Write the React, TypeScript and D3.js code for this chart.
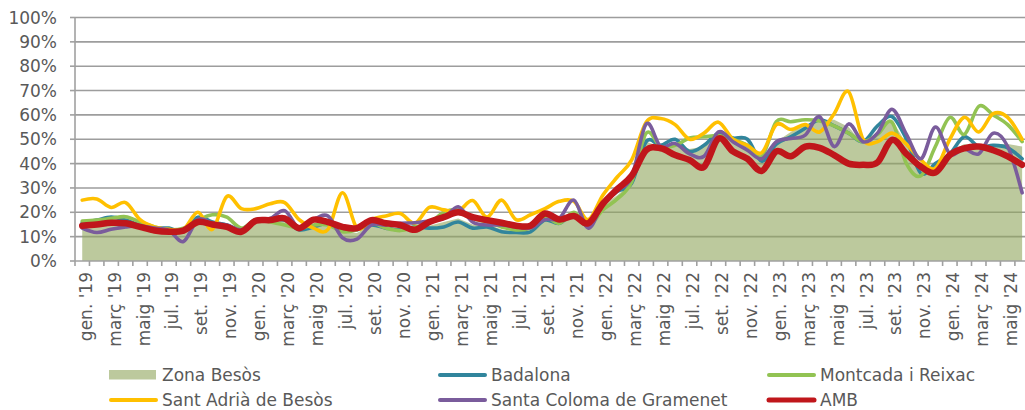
import React from "react";
import * as d3 from "d3";

const MONTH_NAMES = ["gen.", "febr.", "març", "abr.", "maig", "juny", "jul.", "ag.", "set.", "oct.", "nov.", "des."];
const YEARS = ["19", "20", "21", "22", "23", "24"];
const N_MONTHS = 66;
const categories: string[] = [];
for (const y of YEARS) for (const m of MONTH_NAMES) if (categories.length < N_MONTHS) categories.push(`${m} '${y}`);

const yTicks = [0, 0.1, 0.2, 0.3, 0.4, 0.5, 0.6, 0.7, 0.8, 0.9, 1.0];

const zonaBesos = [
  0.16, 0.165, 0.17, 0.165, 0.15, 0.135, 0.13, 0.12, 0.17, 0.165, 0.155, 0.13, 0.165, 0.17, 0.165, 0.13, 0.145,
  0.16, 0.12, 0.115, 0.15, 0.14, 0.13, 0.145, 0.145, 0.16, 0.175, 0.15, 0.15, 0.13, 0.12, 0.125, 0.17, 0.16,
  0.2, 0.14, 0.23, 0.27, 0.32, 0.49, 0.47, 0.48, 0.46, 0.47, 0.51, 0.5, 0.48, 0.41, 0.49, 0.53,
  0.56, 0.58, 0.58, 0.55, 0.48, 0.53, 0.58, 0.48, 0.36, 0.4, 0.45, 0.48, 0.47, 0.48, 0.48, 0.47,
];
const badalona = [
  0.157, 0.168, 0.18, 0.168, 0.148, 0.135, 0.135, 0.12, 0.18, 0.16, 0.148, 0.13, 0.168, 0.168, 0.168, 0.128, 0.14,
  0.155, 0.128, 0.128, 0.148, 0.135, 0.128, 0.14, 0.135, 0.14, 0.16, 0.135, 0.14, 0.12, 0.117, 0.12, 0.168, 0.155,
  0.195, 0.145, 0.235, 0.285, 0.32, 0.49, 0.475, 0.5, 0.45, 0.475, 0.525, 0.505, 0.5, 0.41, 0.48, 0.51,
  0.545, 0.58, 0.555, 0.525, 0.49, 0.555, 0.593, 0.5, 0.36, 0.4, 0.44, 0.51, 0.47, 0.475, 0.465, 0.42,
];
const montcada = [
  0.164, 0.168, 0.175, 0.182, 0.16, 0.14, 0.128, 0.135, 0.168, 0.19, 0.18, 0.135, 0.17, 0.16, 0.148, 0.135, 0.148,
  0.148, 0.12, 0.128, 0.155, 0.135, 0.125, 0.14, 0.155, 0.2, 0.21, 0.175, 0.16, 0.14, 0.128, 0.135, 0.18, 0.155,
  0.2, 0.145, 0.21, 0.255, 0.325, 0.525, 0.47, 0.475, 0.505, 0.51, 0.515, 0.5, 0.475, 0.43, 0.572, 0.572,
  0.58, 0.575, 0.555, 0.525, 0.49, 0.52, 0.57, 0.4, 0.35, 0.47, 0.59, 0.52, 0.635, 0.6, 0.56, 0.49,
];
const santAdria = [
  0.25, 0.255, 0.22, 0.24, 0.17, 0.14, 0.13, 0.13, 0.2, 0.13, 0.265, 0.215, 0.215, 0.235, 0.24, 0.17, 0.135,
  0.13, 0.28, 0.135, 0.17, 0.185, 0.195, 0.155, 0.22, 0.21, 0.205, 0.248, 0.18, 0.25, 0.17, 0.19, 0.215, 0.245,
  0.245, 0.17, 0.27, 0.345, 0.415, 0.57, 0.585, 0.56, 0.5, 0.525, 0.57, 0.5, 0.475, 0.445, 0.56, 0.54,
  0.56, 0.53, 0.605, 0.695, 0.5, 0.49, 0.525, 0.48, 0.415, 0.38, 0.5, 0.59, 0.53, 0.605, 0.59, 0.5,
];
const santaColoma = [
  0.135, 0.117, 0.13, 0.14, 0.145, 0.135, 0.125, 0.08, 0.17, 0.155, 0.148, 0.128, 0.17, 0.175, 0.207, 0.135, 0.17,
  0.185, 0.095, 0.09, 0.148, 0.148, 0.155, 0.157, 0.165, 0.175, 0.223, 0.16, 0.148, 0.148, 0.14, 0.135, 0.17, 0.175,
  0.25, 0.135, 0.235, 0.29, 0.345, 0.563, 0.47, 0.483, 0.44, 0.43, 0.53, 0.49, 0.455, 0.42, 0.49, 0.503,
  0.517, 0.593, 0.47, 0.563, 0.49, 0.525, 0.623, 0.52, 0.42, 0.55, 0.44, 0.46, 0.44, 0.525, 0.47, 0.28,
];
const amb = [
  0.145, 0.15, 0.157, 0.155, 0.14, 0.125, 0.12, 0.125, 0.16, 0.15, 0.14, 0.12, 0.165, 0.168, 0.175, 0.135, 0.17,
  0.16, 0.14, 0.135, 0.168, 0.155, 0.148, 0.128, 0.16, 0.18, 0.2, 0.18, 0.168, 0.157, 0.145, 0.145, 0.195, 0.17,
  0.185, 0.155, 0.235, 0.295, 0.35, 0.455, 0.463, 0.435, 0.415, 0.387, 0.503, 0.45, 0.42, 0.37, 0.45, 0.43,
  0.47, 0.465, 0.435, 0.4, 0.395, 0.405, 0.497, 0.44, 0.387, 0.363, 0.435, 0.463, 0.47, 0.455, 0.43, 0.395,
];

const lineSeries = [
  { name: "Badalona", values: badalona, color: "#31859c", width: 3.6 },
  { name: "Montcada i Reixac", values: montcada, color: "#92c353", width: 3.6 },
  { name: "Sant Adrià de Besòs", values: santAdria, color: "#ffc000", width: 3.6 },
  { name: "Santa Coloma de Gramenet", values: santaColoma, color: "#7a5c9c", width: 3.6 },
  { name: "AMB", values: amb, color: "#c0161b", width: 6.5 },
];

const FONT = "'DejaVu Sans', sans-serif";
const TEXT = "#595959";

export default function App() {
  const W = 1025, H = 410;
  const left = 75, step = 14.46;
  const top = 17.5, bottom = 261;
  const x = d3.scaleBand<number>().domain(d3.range(N_MONTHS)).range([left, left + step * N_MONTHS]).padding(0);
  const cx = (i: number) => (x(i) as number) + x.bandwidth() / 2;
  const y = d3.scaleLinear().domain([0, 1]).range([bottom, top]);

  const area = d3.area<number>().x((_, i) => cx(i)).y0(y(0)).y1((d) => y(d));
  const line = d3.line<number>().x((_, i) => cx(i)).y((d) => y(d)).curve(d3.curveCardinal.tension(0));

  const legend = [
    { name: "Zona Besòs", type: "area", color: "#bcc99d", col: 0, row: 0 },
    { name: "Badalona", type: "line", color: "#31859c", col: 1, row: 0, w: 4 },
    { name: "Montcada i Reixac", type: "line", color: "#92c353", col: 2, row: 0, w: 4 },
    { name: "Sant Adrià de Besòs", type: "line", color: "#ffc000", col: 0, row: 1, w: 4 },
    { name: "Santa Coloma de Gramenet", type: "line", color: "#7a5c9c", col: 1, row: 1, w: 4 },
    { name: "AMB", type: "line", color: "#c0161b", col: 2, row: 1, w: 5 },
  ];
  const colX = [109, 438, 767];
  const rowY = [375, 400];

  return (
    <svg width={W} height={H} style={{ position: "absolute", left: 0, top: 0 }} fontFamily={FONT}>
      <defs>
        <clipPath id="plotclip">
          <rect x={0} y={0} width={W} height={H} />
        </clipPath>
      </defs>
      {/* gridlines */}
      {yTicks.filter((t) => t > 0).map((t) => (
        <line key={t} x1={left} x2={W} y1={y(t)} y2={y(t)} stroke="#9d9d9d" strokeWidth={1.6} />
      ))}
      {/* area */}
      <path d={area(zonaBesos) || ""} fill="#8fa55c" fillOpacity={0.6} />
      {/* axes */}
      <line x1={left} x2={left} y1={top} y2={bottom} stroke="#a0a0a0" strokeWidth={1.6} />
      {yTicks.map((t) => (
        <line key={"yt" + t} x1={left - 5} x2={left} y1={y(t)} y2={y(t)} stroke="#a0a0a0" strokeWidth={1.6} />
      ))}
      <line x1={left} x2={W} y1={bottom} y2={bottom} stroke="#a0a0a0" strokeWidth={1.6} />
      {d3.range(N_MONTHS + 1).map((i) => {
        const xx = left + i * x.bandwidth();
        return <line key={"xt" + i} x1={xx} x2={xx} y1={bottom} y2={bottom + 5} stroke="#a0a0a0" strokeWidth={1.6} />;
      })}
      {/* y labels */}
      {yTicks.map((t) => (
        <text key={"yl" + t} x={57} y={y(t)} textAnchor="end" dominantBaseline="central" fontSize={17} fill={TEXT}>
          {`${Math.round(t * 100)}%`}
        </text>
      ))}
      {/* x labels */}
      {categories.map((c, i) =>
        i % 2 === 0 ? (
          <text
            key={"xl" + i}
            transform={`translate(${cx(i) + 3.5},${272}) rotate(-90)`}
            textAnchor="end"
            dominantBaseline="central"
            fontSize={17}
            fill={TEXT}
          >
            {c}
          </text>
        ) : null
      )}
      {/* lines */}
      <g clipPath="url(#plotclip)">
        {lineSeries.map((s) => (
          <path key={s.name} d={line(s.values) || ""} fill="none" stroke={s.color} strokeWidth={s.width} strokeLinejoin="round" strokeLinecap="round" />
        ))}
      </g>
      {/* legend */}
      {legend.map((l) => {
        const lx = colX[l.col];
        const ly = rowY[l.row];
        return (
          <g key={l.name}>
            {l.type === "area" ? (
              <rect x={lx} y={ly - 5} width={47} height={9.5} fill={l.color} />
            ) : (
              <line x1={lx + 2} x2={lx + 47} y1={ly} y2={ly} stroke={l.color} strokeWidth={l.w} strokeLinecap="round" />
            )}
            <text x={lx + 53} y={ly} dominantBaseline="central" fontSize={17} fill={TEXT}>
              {l.name}
            </text>
          </g>
        );
      })}
    </svg>
  );
}
